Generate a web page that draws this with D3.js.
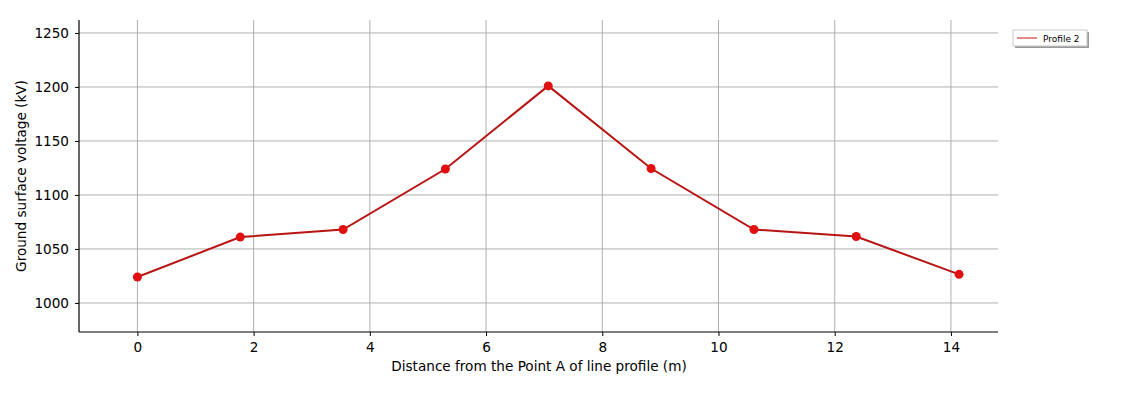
<!DOCTYPE html>
<html><head><meta charset="utf-8">
<script src="https://cdn.jsdelivr.net/npm/d3@7"></script>
<style>body{margin:0;background:#fff}svg{display:block;font-family:"DejaVu Sans",sans-serif}</style>
</head><body><svg id="c" width="1147" height="417"></svg>
<script>
const distance = [0, 1.77, 3.54, 5.30, 7.07, 8.84, 10.61, 12.37, 14.14];
const voltage = [1024, 1061, 1068, 1124, 1201, 1124.5, 1068, 1061.5, 1026.5];
const xTicks = [0, 2, 4, 6, 8, 10, 12, 14];
const yTicks = [1000, 1050, 1100, 1150, 1200, 1250];
const seriesName = "Profile 2";

const svg = d3.select("#c");
const L = 79, R = 998, T = 20, B = 332;
const x = d3.scaleLinear().domain([-1.005, 14.81]).range([L, R]);
const y = d3.scaleLinear().domain([973.1, 1262]).range([B, T]);

// grid
svg.append("g").selectAll("line").data(xTicks).join("line")
  .attr("x1", d => x(d)).attr("x2", d => x(d)).attr("y1", T).attr("y2", B)
  .attr("stroke", "#b0b0b0").attr("stroke-width", 1);
svg.append("g").selectAll("line").data(yTicks).join("line")
  .attr("x1", L).attr("x2", R).attr("y1", d => y(d)).attr("y2", d => y(d))
  .attr("stroke", "#b0b0b0").attr("stroke-width", 1);

// axes
const xa = svg.append("g").attr("transform", `translate(0,${B})`)
  .call(d3.axisBottom(x).tickValues(xTicks).tickSize(4).tickPadding(6).tickFormat(d3.format("d")));
const ya = svg.append("g").attr("transform", `translate(${L},0)`)
  .call(d3.axisLeft(y).tickValues(yTicks).tickSize(4).tickPadding(6).tickFormat(d3.format("d")));
[xa, ya].forEach(a => {
  a.select(".domain").remove();
  a.selectAll("text").attr("font-size", 13.6).attr("fill", "#000").attr("font-family", "DejaVu Sans");
  a.selectAll("line").attr("stroke", "#000");
});
svg.append("line").attr("x1", L).attr("x2", L).attr("y1", T).attr("y2", B).attr("stroke", "#000").attr("stroke-width", 1.2);
svg.append("line").attr("x1", L).attr("x2", R).attr("y1", B).attr("y2", B).attr("stroke", "#000").attr("stroke-width", 1.2);

// labels
svg.append("text").attr("x", 539).attr("y", 371).attr("text-anchor", "middle")
  .attr("font-size", 13.6).text("Distance from the Point A of line profile (m)");
svg.append("text").attr("transform", `translate(26,176) rotate(-90)`).attr("text-anchor", "middle")
  .attr("font-size", 13.6).text("Ground surface voltage (kV)");

// series
const pts = distance.map((d, i) => [d, voltage[i]]);
svg.append("path").datum(pts)
  .attr("d", d3.line().x(d => x(d[0])).y(d => y(d[1])))
  .attr("fill", "none").attr("stroke", "#b81414").attr("stroke-width", 2);
svg.append("g").selectAll("circle").data(pts).join("circle")
  .attr("cx", d => x(d[0])).attr("cy", d => y(d[1])).attr("r", 4.5)
  .attr("fill", "#e01010");

// legend
const lg = svg.append("g").attr("transform", "translate(1013,30)");
lg.append("rect").attr("x", 2).attr("y", 2).attr("width", 74).attr("height", 16).attr("fill", "#999");
lg.append("rect").attr("x", 0).attr("y", 0).attr("width", 74).attr("height", 16).attr("fill", "#fff").attr("stroke", "#ccc");
lg.append("line").attr("x1", 4).attr("x2", 24).attr("y1", 8).attr("y2", 8).attr("stroke", "#c81414").attr("stroke-width", 1);
lg.append("text").attr("x", 30).attr("y", 11.5).attr("font-size", 9).text(seriesName);
</script></body></html>
